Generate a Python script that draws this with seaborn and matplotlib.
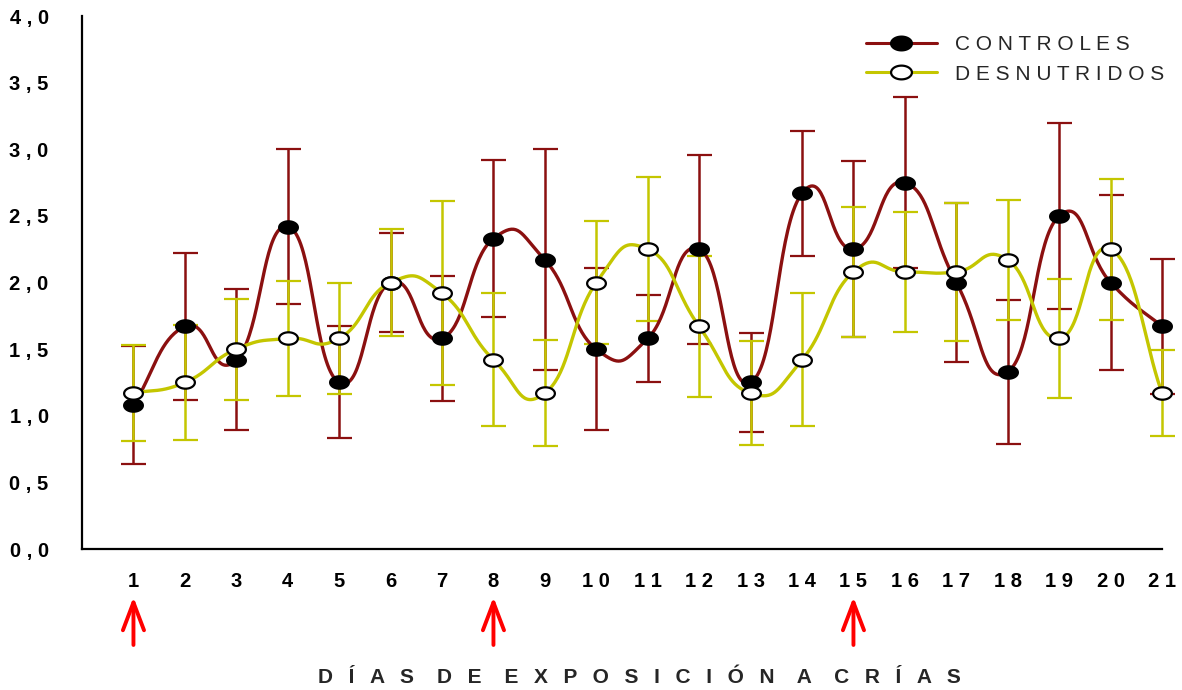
import numpy as np
import pandas as pd
import matplotlib
matplotlib.use("Agg")
import matplotlib.pyplot as plt
from matplotlib.path import Path
import seaborn as sns

# ---- data -------------------------------------------------------------
dias = list(range(1, 22))
controles_media = [1.08, 1.67, 1.42, 2.42, 1.25, 2.00, 1.58, 2.33, 2.17, 1.50, 1.58,
                   2.25, 1.25, 2.67, 2.25, 2.75, 2.00, 1.33, 2.50, 2.00, 1.67]
controles_de = [0.44, 0.55, 0.53, 0.58, 0.42, 0.37, 0.47, 0.59, 0.83, 0.61, 0.33,
                0.71, 0.37, 0.47, 0.66, 0.64, 0.60, 0.54, 0.70, 0.66, 0.51]
desnutridos_media = [1.17, 1.25, 1.50, 1.58, 1.58, 2.00, 1.92, 1.42, 1.17, 2.00, 2.25,
                     1.67, 1.17, 1.42, 2.08, 2.08, 2.08, 2.17, 1.58, 2.25, 1.17]
desnutridos_de = [0.36, 0.43, 0.38, 0.43, 0.42, 0.40, 0.69, 0.50, 0.40, 0.46, 0.54,
                  0.53, 0.39, 0.50, 0.49, 0.45, 0.52, 0.45, 0.45, 0.53, 0.32]
dias_exposicion = [1, 8, 15]
y_ticks = [0.0, 0.5, 1.0, 1.5, 2.0, 2.5, 3.0, 3.5, 4.0]
grupos = ["CONTROLES", "DESNUTRIDOS"]
titulo_x = "DÍAS DE EXPOSICIÓN A CRÍAS"

ROJO = "#8b1010"
AMARILLO = "#c4c600"
THIN = "\u2009"


def espaciar(texto, sep=" ", sep_palabra="   "):
    return sep_palabra.join(sep.join(p) for p in texto.split(" "))


def suavizar(x, y, k=0.75, n=40):
    """Smoothed (Hermite / Catmull-Rom style) curve through the points."""
    P = np.column_stack([x, y]).astype(float)
    ext = np.vstack([2 * P[0] - P[1], P, 2 * P[-1] - P[-2]])
    m = k * (ext[2:] - ext[:-2])
    m[0] = k * (P[1] - P[0]) * 1.5
    m[-1] = k * (P[-1] - P[-2]) * 1.5
    t = np.linspace(0, 1, n)[:, None]
    h00 = 2 * t**3 - 3 * t**2 + 1
    h10 = t**3 - 2 * t**2 + t
    h01 = -2 * t**3 + 3 * t**2
    h11 = t**3 - t**2
    segs = []
    for i in range(len(P) - 1):
        seg = h00 * P[i] + h10 * m[i] + h01 * P[i + 1] + h11 * m[i + 1]
        segs.append(seg if i == 0 else seg[1:])
    c = np.vstack(segs)
    return c[:, 0], c[:, 1]


df = pd.DataFrame({
    "dia": dias * 2,
    "media": controles_media + desnutridos_media,
    "de": controles_de + desnutridos_de,
    "grupo": [grupos[0]] * len(dias) + [grupos[1]] * len(dias),
})

curvas = []
for g in grupos:
    sub = df[df.grupo == g]
    cx, cy = suavizar(sub.dia.values, sub.media.values)
    curvas.append(pd.DataFrame({"dia": cx, "media": cy, "grupo": g}))
curvas = pd.concat(curvas, ignore_index=True)

# ---- style ------------------------------------------------------------
sns.set_theme(style="white")
plt.rcParams["font.family"] = ["Liberation Sans", "DejaVu Sans"]

fig = plt.figure(figsize=(11.82, 6.9), dpi=100)
ax = fig.add_axes([0.0694, 0.2043, 0.9137, 0.7725])

colores = {grupos[0]: ROJO, grupos[1]: AMARILLO}

# error bars (standard deviation)
for g in grupos:
    sub = df[df.grupo == g]
    eb = ax.errorbar(sub.dia, sub.media, yerr=sub.de, fmt="none", ecolor=colores[g],
                     elinewidth=1.8, capsize=9, capthick=1.6, zorder=2)
    for art in eb.lines[1] + eb.lines[2]:
        art.set_clip_on(False)

# smoothed lines
sns.lineplot(data=curvas, x="dia", y="media", hue="grupo", palette=colores,
             sort=False, estimator=None, linewidth=2.4, legend=False, ax=ax, zorder=3)
for ln in ax.lines:
    ln.set_clip_on(False)

# elliptical markers
th = np.linspace(0, 2 * np.pi, 60)
elipse = Path(np.column_stack([np.cos(th), 0.66 * np.sin(th)]), closed=True)
estilo = {grupos[0]: dict(markerfacecolor="black", markeredgecolor="black"),
          grupos[1]: dict(markerfacecolor="white", markeredgecolor="black")}
handles = []
for i, g in enumerate(grupos):
    sub = df[df.grupo == g]
    ax.plot(sub.dia, sub.media, linestyle="none", marker=elipse, markersize=13.5,
            markeredgewidth=1.6, zorder=4 + i, clip_on=False, **estilo[g])
    h, = ax.plot([], [], color=colores[g], linewidth=2.2, marker=elipse,
                 markersize=15, markeredgewidth=1.6, **estilo[g])
    handles.append(h)

ax.legend(handles, [espaciar(g) for g in grupos], loc="center left",
          bbox_to_anchor=(866 / 1182, 1 - 59.5 / 690), bbox_transform=fig.transFigure,
          frameon=False, fontsize=15, handlelength=3.4, handletextpad=0.85,
          labelspacing=0.49, borderpad=0, borderaxespad=0)

# axes
ax.set_xlim(0, 21)
ax.set_ylim(0, 4)
ax.set_xticks(dias)
ax.set_xticklabels([" ".join(str(d)) for d in dias], fontweight="bold", fontsize=14.5)
ax.set_yticks(y_ticks)
ax.set_yticklabels([" , ".join(f"{v:.1f}".split(".")) for v in y_ticks],
                   fontweight="bold", fontsize=14.5)
for s in ["top", "right"]:
    ax.spines[s].set_visible(False)
for s in ["left", "bottom"]:
    ax.spines[s].set_color("black")
    ax.spines[s].set_linewidth(1.6)
ax.tick_params(axis="y", direction="out", length=8, width=1.5, pad=16, colors="black")
ax.tick_params(axis="x", direction="out", length=5.5, width=1.5, pad=11, colors="black")
ax.set_ylabel("")
ax.set_xlabel("")

fig.text(639 / 1182, 0.0097,
         espaciar(titulo_x, sep="  " + THIN, sep_palabra="    "),
         ha="center", va="baseline", fontweight="bold", fontsize=15)

# exposure-day arrows below the axis
for d in dias_exposicion:
    ax.annotate("", xy=(d, -0.09), xytext=(d, -0.18),
                xycoords=ax.get_xaxis_transform(),
                textcoords=ax.get_xaxis_transform(),
                arrowprops=dict(arrowstyle="->,head_length=1.0,head_width=0.38",
                                color="red", lw=2.8, shrinkA=0, shrinkB=0,
                                mutation_scale=20),
                annotation_clip=False)

fig.savefig("out.png", dpi=100, facecolor="white")
